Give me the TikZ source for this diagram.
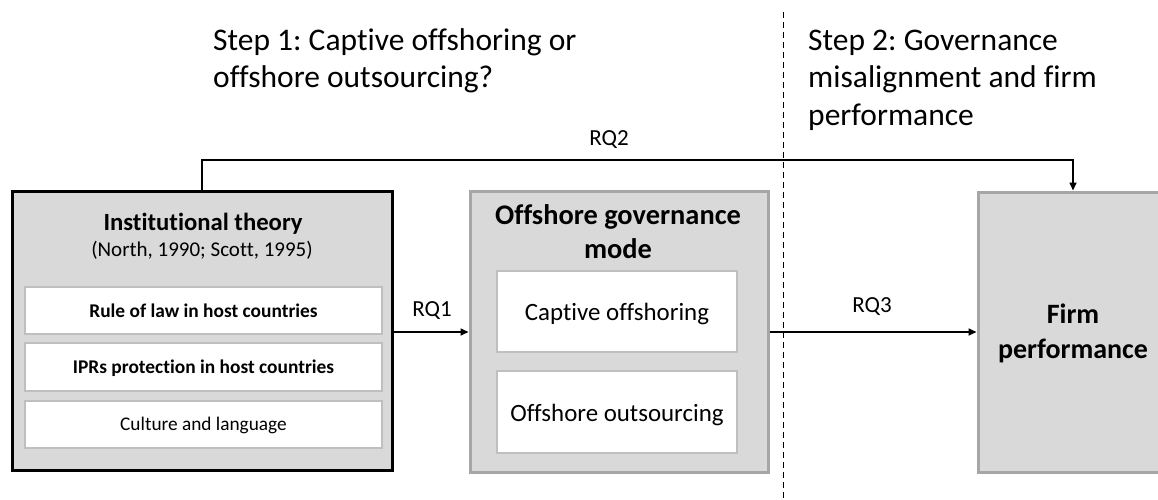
\documentclass[tikz,border=0pt]{standalone}
\usepackage{fontspec}
\setmainfont{Carlito}[Ligatures=CommonOff]
\usetikzlibrary{arrows.meta,positioning}
\definecolor{boxfill}{HTML}{D9D9D9}
\definecolor{midborder}{HTML}{A6A6A6}
\definecolor{innerborder}{HTML}{BFBFBF}
\frenchspacing
\begin{document}
\begin{tikzpicture}[x=1pt,y=-1pt,
  outerbox/.style={draw, fill=boxfill, rectangle, inner sep=0pt},
  innerbox/.style={draw=innerborder, line width=1.2pt, fill=white, rectangle, inner sep=0pt},
  conn/.style={line width=1.6pt, -{Triangle[length=8pt,width=7pt]}},
  steptext/.style={anchor=base west, inner sep=0pt, font=\fontsize{31.5}{37}\selectfont},
  txt/.style={anchor=base, inner sep=0pt},
  rqlabel/.style={anchor=base, inner sep=0pt, font=\fontsize{23}{26}\selectfont}
]
\useasboundingbox (0,0) rectangle (1158,499);
% dashed divider
\draw[dashed, line width=1pt, dash pattern=on 6pt off 4pt] (783,12) -- (783,499);

% step texts
\node[steptext] (s1a) at (213,50) {Step 1: Captive offshoring or};
\node[steptext] (s1b) at (213,87.5) {offshore outsourcing?};
\node[steptext] (s2a) at (808,50) {Step 2: Governance};
\node[steptext] (s2b) at (808,87.5) {misalignment and firm};
\node[steptext] (s2c) at (808,125) {performance};

% left box
\node[outerbox, line width=3pt, minimum width=380pt, minimum height=279pt] (inst) at (202,330.5) {};
\node[txt, font=\bfseries\fontsize{24.7}{28}\selectfont] (insttitle) at (203,230) {Institutional theory};
\node[txt, font=\fontsize{21}{24}\selectfont] (instref) at (202,256) {(North, 1990; Scott, 1995)};
\node[innerbox, minimum width=357pt, minimum height=47pt] (rule) at (203.5,310.5) {};
\node[innerbox, minimum width=357pt, minimum height=48pt] (ipr) at (203.5,367) {};
\node[innerbox, minimum width=357pt, minimum height=47pt] (cult) at (203.5,424.5) {};
\node[txt, font=\bfseries\fontsize{19.4}{22}\selectfont] (rulet) at (203.5,317) {Rule of law in host countries};
\node[txt, font=\bfseries\fontsize{19.4}{22}\selectfont] (iprt) at (203.5,373) {IPRs protection in host countries};
\node[txt, font=\fontsize{19.3}{22}\selectfont] (cultt) at (203.5,430) {Culture and language};

% middle box
\node[outerbox, draw=midborder, line width=3pt, minimum width=298pt, minimum height=281pt] (mode) at (619,331.5) {};
\node[txt, font=\bfseries\fontsize{28.4}{32}\selectfont] (modet1) at (618,224) {Offshore governance};
\node[txt, font=\bfseries\fontsize{28.4}{32}\selectfont] (modet2) at (618,258) {mode};
\node[innerbox, minimum width=240pt, minimum height=81pt] (capt) at (617,311.5) {};
\node[innerbox, minimum width=240pt, minimum height=82pt] (outs) at (617,412) {};
\node[txt, font=\fontsize{24.9}{28}\selectfont] (captt) at (617,320) {Captive offshoring};
\node[txt, font=\fontsize{24.9}{28}\selectfont] (outst) at (617,421) {Offshore outsourcing};

% right box
\node[outerbox, draw=midborder, line width=3pt, minimum width=190pt, minimum height=280pt] (firm) at (1073,332) {};
\node[txt, font=\bfseries\fontsize{28}{32}\selectfont] (firmt1) at (1073,323) {Firm};
\node[txt, font=\bfseries\fontsize{28}{32}\selectfont] (firmt2) at (1073,358) {performance};

% connectors
\draw[conn] (inst.north -| 202,0) |- (1073,160) -- (firm.north);
\draw[conn] (inst.east |- 0,332) -- (mode.west |- 0,332);
\draw[conn] (mode.east |- 0,332) -- (firm.west |- 0,332);

% labels
\node[rqlabel] (rq2) at (609,145) {RQ2};
\node[rqlabel] (rq1) at (432,316) {RQ1};
\node[rqlabel] (rq3) at (872,312) {RQ3};
\end{tikzpicture}
\end{document}
